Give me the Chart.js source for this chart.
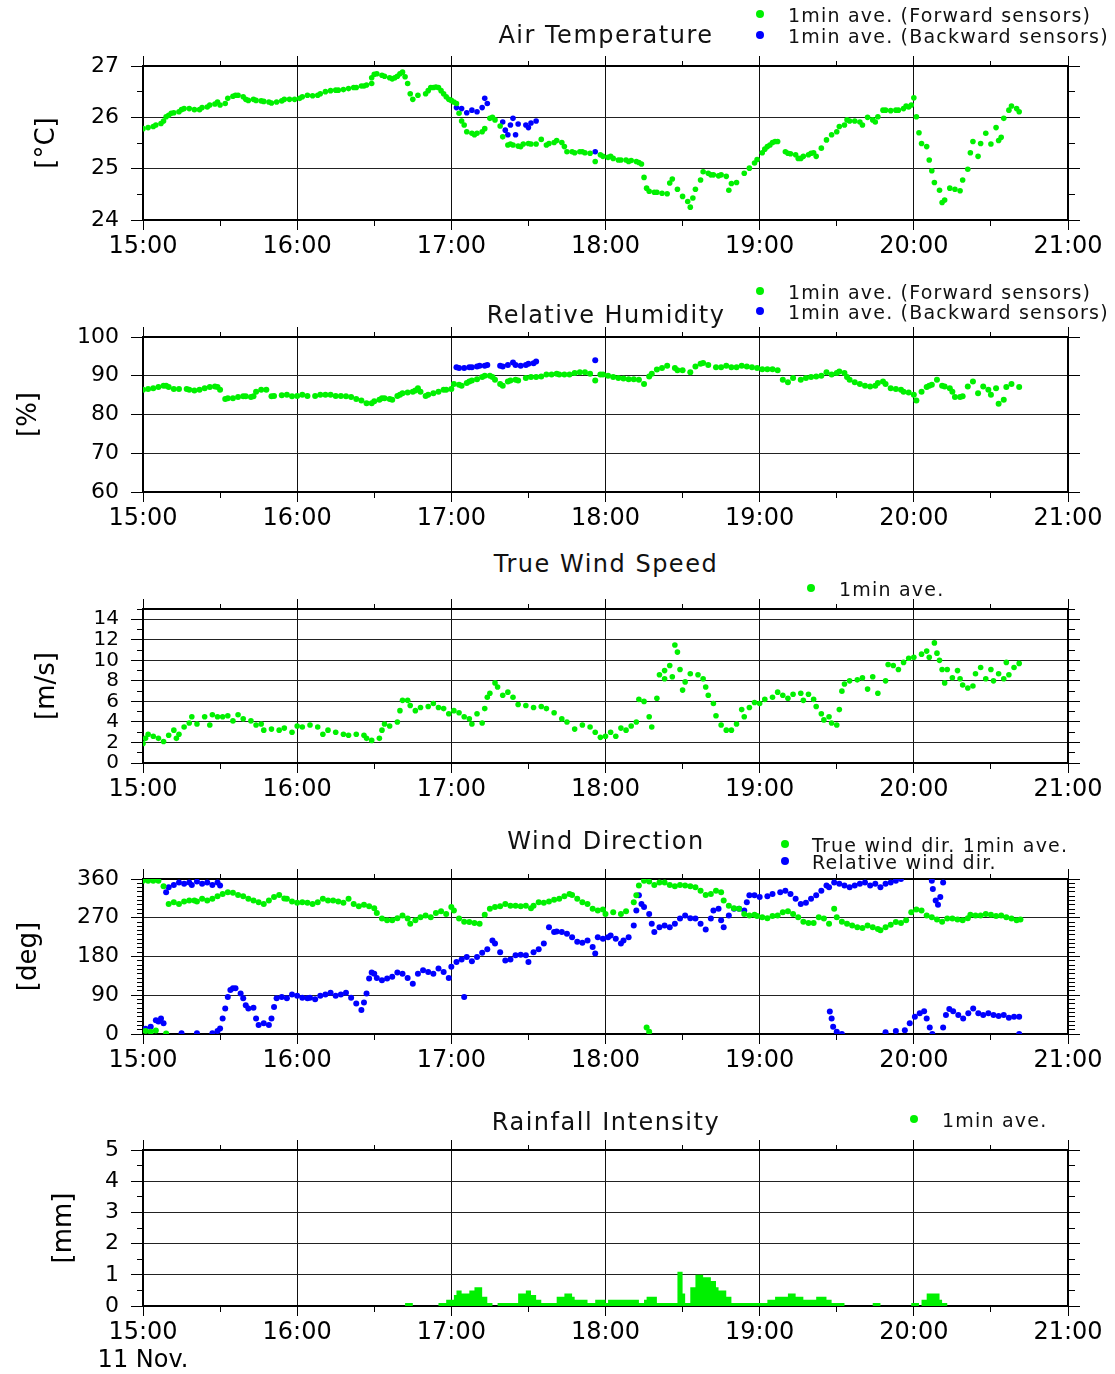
<!DOCTYPE html>
<html>
<head>
<meta charset="utf-8">
<script src="https://cdn.jsdelivr.net/npm/chart.js@4.4.1/dist/chart.umd.min.js"></script>
<style>
  body { margin: 0; background: #fff; width: 1115px; height: 1374px; position: relative; overflow: hidden; font-family: 'DejaVu Sans', sans-serif; color: #111; }
  .box { position: absolute; left: 0; width: 1115px; }
  .title { position: absolute; transform: translate(-50%, -50%); font-size: 24px; letter-spacing: 1.5px; white-space: nowrap; }
  .leg { position: absolute; font-size: 19px; letter-spacing: 1.2px; line-height: 20px; white-space: nowrap; }
  .dot { position: absolute; width: 8px; height: 8px; border-radius: 50%; }
</style>
</head>
<body>
<div class="box" id="b1"><canvas id="c1"></canvas></div>
<div class="box" id="b2"><canvas id="c2"></canvas></div>
<div class="box" id="b3"><canvas id="c3"></canvas></div>
<div class="box" id="b4"><canvas id="c4"></canvas></div>
<div class="box" id="b5"><canvas id="c5"></canvas></div>

<div class="title" style="left:606px;top:35px">Air Temperature</div>
<div class="dot" style="left:756px;top:10px;background:#00f000"></div>
<div class="leg" style="left:788px;top:5px">1min ave. (Forward sensors)</div>
<div class="dot" style="left:756px;top:31px;background:#0000ff"></div>
<div class="leg" style="left:788px;top:26px">1min ave. (Backward sensors)</div>

<div class="title" style="left:606px;top:315px">Relative Humidity</div>
<div class="dot" style="left:756px;top:287px;background:#00f000"></div>
<div class="leg" style="left:788px;top:282px">1min ave. (Forward sensors)</div>
<div class="dot" style="left:756px;top:307px;background:#0000ff"></div>
<div class="leg" style="left:788px;top:302px">1min ave. (Backward sensors)</div>

<div class="title" style="left:606px;top:564px">True Wind Speed</div>
<div class="dot" style="left:807px;top:584px;background:#00f000"></div>
<div class="leg" style="left:839px;top:579px">1min ave.</div>

<div class="title" style="left:606px;top:841px">Wind Direction</div>
<div class="dot" style="left:781px;top:840px;background:#00f000"></div>
<div class="leg" style="left:812px;top:835px">True wind dir. 1min ave.</div>
<div class="dot" style="left:781px;top:857px;background:#0000ff"></div>
<div class="leg" style="left:812px;top:852px">Relative wind dir.</div>

<div class="title" style="left:606px;top:1122px">Rainfall Intensity</div>
<div class="dot" style="left:910px;top:1115px;background:#00f000"></div>
<div class="leg" style="left:942px;top:1110px">1min ave.</div>

<script>
// time = minutes after 15:00
const hourTicks = ['15:00', '16:00', '17:00', '18:00', '19:00', '20:00', '21:00'];
const dateLabel = '11 Nov.';

const tempForward = [[0,25.78],[2,25.80],[4,25.82],[5,25.85],[7,25.88],[8,25.93],[9,26.01],[10,26.04],[11,26.08],[12,26.09],[14,26.11],[15,26.15],[16,26.17],[18,26.17],[20,26.15],[22,26.15],[23,26.19],[25,26.20],[26,26.24],[28,26.26],[29,26.30],[30,26.24],[32,26.27],[33,26.37],[35,26.41],[36,26.43],[37,26.43],[39,26.40],[40,26.35],[41,26.33],[43,26.35],[44,26.33],[46,26.32],[47,26.31],[49,26.30],[50,26.28],[52,26.30],[54,26.32],[55,26.35],[57,26.35],[59,26.35],[61,26.37],[62,26.40],[64,26.43],[66,26.42],[68,26.43],[69,26.46],[71,26.50],[73,26.52],[75,26.53],[76,26.53],[78,26.54],[80,26.56],[82,26.58],[83,26.58],[85,26.61],[86,26.61],[87,26.63],[89,26.66],[89,26.77],[90,26.84],[91,26.85],[93,26.82],[94,26.80],[96,26.77],[97,26.75],[98,26.77],[99,26.80],[100,26.85],[101,26.88],[102,26.79],[103,26.66],[104,26.46],[105,26.35],[107,26.43],[110,26.46],[111,26.52],[112,26.58],[113,26.58],[114,26.59],[115,26.58],[116,26.52],[117,26.46],[118,26.40],[119,26.35],[120,26.33],[121,26.30],[122,26.27],[123,26.08],[124,25.93],[125,25.85],[126,25.72],[128,25.69],[129,25.66],[130,25.69],[132,25.72],[133,25.78],[135,25.98],[136,26.00],[137,25.95],[139,25.83],[140,25.62],[142,25.46],[143,25.48],[144,25.46],[146,25.44],[147,25.43],[148,25.48],[150,25.49],[151,25.48],[153,25.48],[155,25.57],[157,25.46],[158,25.49],[160,25.51],[161,25.55],[163,25.51],[164,25.43],[165,25.33],[167,25.33],[168,25.31],[170,25.33],[171,25.33],[172,25.31],[174,25.30],[176,25.14],[178,25.27],[179,25.24],[181,25.22],[182,25.24],[183,25.20],[185,25.17],[186,25.17],[188,25.17],[189,25.14],[190,25.16],[192,25.14],[193,25.12],[194,25.09],[195,24.83],[196,24.62],[197,24.56],[199,24.54],[200,24.54],[202,24.52],[204,24.51],[205,24.72],[206,24.80],[208,24.60],[210,24.46],[212,24.36],[213,24.25],[214,24.43],[215,24.60],[217,24.78],[218,24.94],[220,24.91],[221,24.88],[222,24.88],[224,24.86],[225,24.88],[227,24.85],[228,24.58],[229,24.71],[231,24.73],[234,24.91],[236,25.01],[238,25.11],[239,25.18],[241,25.31],[242,25.38],[243,25.43],[244,25.46],[245,25.51],[246,25.53],[247,25.53],[250,25.33],[251,25.30],[252,25.29],[254,25.27],[255,25.20],[256,25.20],[257,25.24],[259,25.27],[260,25.30],[261,25.31],[262,25.24],[264,25.40],[266,25.56],[268,25.66],[270,25.72],[271,25.82],[273,25.85],[274,25.95],[275,25.93],[277,25.93],[279,25.91],[280,25.85],[282,26.00],[284,25.95],[285,25.91],[286,26.01],[288,26.14],[289,26.14],[291,26.13],[293,26.14],[294,26.14],[296,26.17],[297,26.22],[298,26.20],[299,26.24],[300,26.38],[301,26.01],[302,25.70],[303,25.49],[305,25.43],[306,25.17],[307,24.96],[308,24.73],[310,24.58],[311,24.34],[312,24.39],[314,24.62],[316,24.60],[318,24.57],[319,24.78],[321,24.99],[322,25.31],[323,25.53],[325,25.24],[326,25.49],[328,25.69],[330,25.48],[332,25.80],[333,25.55],[334,25.61],[335,25.98],[337,26.14],[338,26.22],[340,26.17],[341,26.11]];
const tempBackward = [[122,26.19],[124,26.17],[126,26.09],[128,26.14],[130,26.11],[132,26.19],[133,26.37],[134,26.27],[140,25.91],[141,25.75],[142,25.66],[143,25.85],[144,25.98],[145,25.66],[146,25.87],[149,25.85],[150,25.80],[151,25.89],[153,25.93],[176,25.33]];

const rhForward = [[0,86.4],[2,86.6],[4,86.8],[6,87.1],[8,87.4],[9,87.4],[10,87.1],[12,86.6],[14,86.6],[17,86.6],[18,86.4],[20,86.2],[22,86.4],[24,86.8],[26,87.1],[28,87.2],[29,87.1],[30,86.4],[32,84.0],[33,84.2],[35,84.2],[37,84.5],[39,84.7],[40,84.7],[42,84.5],[43,84.7],[44,85.9],[46,86.4],[48,86.4],[50,84.7],[51,84.8],[54,85.0],[56,85.1],[58,84.7],[60,84.8],[62,85.1],[64,84.8],[67,84.8],[69,85.1],[71,85.1],[73,85.1],[75,84.8],[77,84.8],[79,84.7],[81,84.5],[83,84.0],[85,83.6],[87,82.9],[89,82.9],[90,83.4],[92,83.8],[93,84.2],[94,84.2],[96,84.0],[97,83.8],[99,84.8],[100,85.1],[101,85.5],[103,85.7],[105,85.9],[106,86.2],[107,86.8],[108,85.9],[110,84.8],[111,85.1],[113,85.5],[115,85.9],[117,86.4],[118,86.4],[120,86.6],[121,87.9],[123,87.7],[124,87.4],[126,88.1],[127,88.5],[128,88.8],[130,89.1],[132,89.7],[133,90.0],[135,90.0],[136,89.7],[137,89.0],[139,87.9],[140,87.4],[142,88.5],[143,88.8],[145,89.0],[146,88.8],[149,89.4],[151,89.7],[153,89.7],[155,89.8],[157,90.3],[159,90.3],[161,90.5],[162,90.3],[164,90.3],[166,90.3],[168,90.7],[170,90.9],[172,90.9],[174,90.5],[176,88.8],[178,90.3],[179,90.3],[181,90.0],[183,89.7],[185,89.4],[187,89.3],[189,89.1],[191,89.1],[193,89.0],[195,87.9],[197,89.8],[198,90.5],[200,91.6],[202,92.0],[204,92.6],[207,92.0],[208,91.4],[210,91.4],[213,90.9],[215,92.4],[217,93.1],[218,93.3],[220,92.8],[223,92.2],[225,92.2],[227,92.6],[229,92.2],[231,92.2],[233,92.6],[235,92.4],[237,92.2],[239,92.0],[241,91.7],[243,91.7],[245,91.7],[247,91.4],[249,89.0],[251,88.3],[253,89.4],[256,89.0],[258,89.4],[260,89.7],[262,89.8],[264,90.0],[266,90.9],[268,90.3],[270,90.7],[271,91.1],[273,90.7],[274,89.7],[275,89.0],[277,88.3],[279,87.9],[281,87.4],[283,87.2],[285,87.4],[286,88.1],[288,88.5],[289,87.9],[291,86.8],[293,86.6],[295,86.4],[296,85.9],[298,85.7],[300,85.1],[301,83.6],[303,85.9],[305,87.1],[306,87.4],[307,87.7],[309,89.0],[311,87.4],[312,87.2],[314,86.8],[315,85.9],[316,84.5],[318,84.5],[319,84.7],[321,87.2],[323,88.5],[325,85.5],[327,87.2],[329,86.4],[330,85.1],[332,86.8],[333,82.8],[335,83.8],[336,87.1],[338,87.9],[341,87.1]];
const rhBackward = [[122,92.2],[123,92.0],[125,92.0],[127,92.2],[128,92.2],[130,92.4],[131,92.6],[133,92.6],[134,92.8],[139,92.6],[140,92.4],[142,92.8],[144,93.4],[145,92.8],[147,92.6],[149,92.8],[150,93.1],[152,93.2],[153,93.7],[176,94.0]];

const windSpeed = [[0,1.9],[1,2.4],[2,2.8],[4,2.6],[6,2.4],[8,2.1],[10,2.7],[12,3.2],[13,2.4],[14,2.8],[16,3.5],[18,3.9],[19,4.5],[21,3.8],[24,4.5],[26,3.7],[27,4.7],[29,4.5],[31,4.5],[33,4.6],[35,4.1],[37,4.7],[39,4.3],[42,4.1],[44,3.7],[46,3.8],[47,3.2],[50,3.3],[53,3.2],[55,3.4],[58,3.0],[60,3.6],[62,3.5],[65,3.7],[68,3.5],[70,2.8],[72,3.2],[75,3.0],[78,2.8],[80,2.7],[83,2.8],[86,2.7],[87,2.4],[89,2.2],[92,2.4],[93,3.2],[94,3.8],[96,3.6],[99,4.0],[100,5.1],[101,6.1],[103,6.1],[104,5.6],[106,5.1],[108,5.4],[111,5.5],[113,5.8],[115,5.4],[117,5.3],[119,4.8],[121,5.1],[123,4.9],[125,4.5],[127,4.3],[128,3.8],[130,4.8],[132,3.9],[133,5.3],[134,6.4],[135,6.8],[137,7.8],[138,7.4],[140,6.6],[142,6.9],[144,6.4],[146,5.7],[149,5.6],[152,5.4],[155,5.5],[157,5.3],[160,4.9],[163,4.3],[165,4.0],[168,3.3],[171,3.7],[174,3.5],[176,3.0],[178,2.5],[180,2.6],[182,3.0],[184,2.6],[186,3.4],[188,3.2],[190,3.6],[192,4.0],[193,6.2],[195,6.0],[197,4.5],[198,3.5],[200,6.3],[201,8.6],[203,9.0],[205,9.5],[203,8.2],[206,8.4],[207,11.5],[208,10.8],[209,9.1],[210,7.1],[211,7.9],[213,8.7],[216,8.6],[218,8.2],[219,7.4],[220,6.6],[222,5.8],[223,4.6],[225,3.7],[227,3.2],[229,3.2],[231,3.8],[233,5.2],[234,4.5],[236,5.4],[238,5.9],[240,5.8],[242,6.2],[245,6.4],[247,6.9],[249,6.6],[251,6.3],[253,6.7],[256,6.8],[257,6.1],[259,6.7],[261,6.2],[262,5.5],[264,4.8],[265,4.2],[267,4.5],[268,3.9],[270,3.7],[271,5.2],[272,7.0],[273,7.7],[275,8.0],[278,8.1],[280,8.3],[282,7.2],[284,8.4],[286,6.8],[289,8.0],[290,9.6],[292,9.5],[294,9.1],[296,9.8],[298,10.2],[300,10.3],[303,10.6],[305,10.9],[306,10.3],[308,11.7],[309,10.7],[310,10.0],[311,9.1],[312,7.8],[313,9.1],[315,8.3],[317,9.0],[318,8.2],[319,7.6],[321,7.3],[323,7.5],[324,8.7],[326,9.3],[328,8.2],[330,9.1],[331,8.0],[333,8.7],[335,8.2],[336,9.8],[337,8.6],[339,9.3],[341,9.7]];

const trueDir = [[0,356],[2,356],[4,356],[6,356],[8,343],[1,7],[3,5],[5,8],[9,1],[10,302],[12,306],[14,302],[16,308],[18,310],[20,310],[21,308],[23,314],[25,310],[27,314],[29,320],[31,325],[33,329],[35,328],[37,323],[39,320],[41,314],[43,310],[45,306],[47,302],[49,310],[51,318],[53,323],[55,315],[56,314],[58,308],[60,305],[62,306],[64,305],[66,302],[68,306],[70,314],[72,310],[74,310],[76,308],[78,305],[80,314],[82,302],[84,297],[86,300],[88,297],[90,292],[91,281],[93,268],[95,264],[97,264],[99,269],[101,275],[103,268],[104,256],[106,264],[108,271],[110,275],[112,271],[114,281],[116,285],[118,279],[120,295],[121,287],[123,268],[125,261],[127,260],[129,258],[131,256],[133,277],[135,291],[137,295],[139,297],[141,302],[143,298],[145,298],[147,297],[149,298],[151,292],[152,298],[154,306],[156,305],[158,308],[160,312],[162,314],[164,320],[166,325],[167,323],[169,314],[171,306],[173,302],[175,291],[177,287],[179,289],[180,279],[183,283],[186,279],[188,285],[191,306],[192,322],[193,345],[195,356],[197,354],[199,346],[201,352],[203,352],[205,346],[207,343],[209,346],[211,345],[213,343],[215,341],[217,333],[219,323],[221,325],[223,333],[225,329],[226,310],[228,298],[230,292],[232,291],[234,279],[236,275],[238,277],[239,274],[241,271],[243,269],[245,274],[247,275],[249,283],[251,285],[253,279],[255,271],[257,261],[259,258],[261,258],[263,271],[265,268],[267,256],[269,291],[270,271],[272,261],[274,256],[276,252],[278,248],[280,246],[282,252],[284,248],[286,244],[287,241],[289,248],[291,254],[293,260],[295,258],[297,264],[299,283],[301,289],[303,287],[305,275],[307,271],[309,266],[311,261],[313,268],[315,268],[317,266],[319,264],[321,269],[322,277],[324,275],[326,275],[328,279],[330,277],[332,274],[334,275],[336,271],[338,268],[340,264],[341.5,266],[196,15],[197,5]];
const relativeDir = [[1,12],[3,17],[5,32],[6,29],[7,36],[8,25],[9,329],[10,341],[12,346],[14,352],[16,349],[18,352],[19,346],[21,354],[23,349],[25,352],[27,346],[29,352],[30,345],[15,2],[21,2],[27,2],[29,7],[30,13],[31,36],[32,59],[33,86],[34,102],[35,106],[36,106],[38,94],[39,83],[40,67],[41,59],[43,61],[44,36],[45,21],[47,25],[49,21],[50,36],[51,63],[52,83],[54,86],[56,83],[58,92],[60,89],[62,84],[64,83],[65,84],[67,81],[69,89],[71,92],[73,96],[75,89],[77,92],[79,96],[81,84],[83,71],[85,56],[86,73],[87,94],[88,129],[89,143],[90,140],[91,130],[93,125],[95,129],[97,133],[99,143],[101,140],[103,130],[105,117],[107,140],[109,148],[111,144],[113,140],[115,152],[117,144],[119,130],[120,156],[122,167],[124,173],[125,86],[126,179],[128,169],[130,179],[132,189],[134,197],[136,217],[137,210],[139,190],[141,171],[143,173],[145,183],[147,184],[149,183],[150,167],[152,190],[154,197],[156,210],[158,248],[160,237],[161,238],[163,237],[165,233],[167,225],[169,214],[171,212],[173,217],[175,202],[176,187],[177,225],[179,221],[181,225],[182,229],[184,221],[186,210],[187,217],[189,225],[191,252],[192,287],[193,322],[194,302],[195,295],[197,279],[198,256],[199,237],[201,248],[203,252],[205,248],[207,256],[209,268],[211,275],[213,269],[215,268],[217,256],[219,243],[221,268],[222,287],[224,291],[225,264],[226,248],[228,275],[230,291],[232,291],[234,287],[235,306],[236,322],[238,322],[240,318],[243,320],[245,325],[248,329],[250,333],[252,325],[254,314],[256,302],[258,305],[260,314],[262,322],[264,333],[266,345],[267,341],[269,352],[271,349],[273,345],[275,341],[277,345],[279,349],[281,352],[283,345],[285,349],[287,341],[289,349],[291,352],[293,356],[295,360],[307,356],[307.4,337],[308.5,310],[309.4,300],[310.3,318],[311.4,352],[267.3,52],[268,36],[268.6,17],[270,5],[272,0],[289,4],[293,7],[296.5,9],[298.4,25],[300.4,40],[302.3,48],[304,53],[305,36],[306.2,15],[307.2,0],[311.4,15],[312.5,44],[313.8,58],[315.3,53],[317.3,44],[319.2,36],[321.2,48],[323.1,59],[325.1,48],[327,44],[329,48],[331,44],[333,42],[335,44],[337,38],[339,40],[341,40],[341,0]];

// rainfall: [start minute, mm] held until the next entry
const rainfall = [[0,0],[102,0.1],[105,0],[115,0.1],[118,0.2],[121,0.35],[122,0.5],[124,0.4],[127,0.5],[129,0.6],[132,0.3],[134,0.1],[136,0],[138,0.1],[146,0.4],[149,0.5],[151,0.35],[153,0.2],[155,0.1],[161,0.3],[164,0.4],[167,0.3],[168,0.2],[173,0.1],[176,0.2],[180,0.1],[181,0.2],[193,0.1],[195,0.2],[196,0.3],[200,0.1],[208,1.1],[210,0.4],[211,0.1],[213,0.6],[215,1.0],[218,0.92],[221,0.8],[223,0.6],[224,0.5],[227,0.3],[229,0.1],[243,0.2],[246,0.3],[251,0.4],[254,0.3],[257,0.2],[262,0.3],[266,0.2],[268,0.1],[273,0],[284,0.1],[287,0],[299,0.1],[302,0],[303,0.2],[305,0.4],[310,0.2],[311,0.1],[313,0],[360,0]];

const FONT = "'DejaVu Sans', sans-serif";
const GREEN = '#00f000';
const BLUE = '#0000ff';
const CLEAR = 'rgba(0,0,0,0)';
const TOP_H = 30;
const isMul = (v, m) => Math.abs(v / m - Math.round(v / m)) < 1e-6;
const xy = arr => arr.map(([x, y]) => ({x, y}));

function xScale(pos, bottomH, extra) {
  const top = pos === 'top';
  return {
    type: 'linear', position: pos, min: 0, max: 360,
    ticks: {
      display: !top, stepSize: 30, autoSkip: false, maxRotation: 0, minRotation: 0,
      color: '#000', padding: 3, font: {family: FONT, size: 24, lineHeight: 1.15},
      callback: v => {
        if (!isMul(v, 60)) return '';
        const lab = hourTicks[Math.round(v / 60)];
        return v === 0 && extra ? [lab, extra] : lab;
      }
    },
    grid: {
      drawOnChartArea: !top, lineWidth: 1, tickLength: 10, tickWidth: 1, tickColor: '#000',
      color: c => c.tick && isMul(c.tick.value, 60) ? '#111' : CLEAR,
      tickBorderDash: c => (c.tick && isMul(c.tick.value, 60)) ? [] : (top ? [0, 5, 5, 40] : [5, 40])
    },
    border: {display: true, color: '#000', width: 2},
    afterFit: s => { s.height = top ? TOP_H : bottomH; }
  };
}

function yScale(pos, c) {
  const left = pos === 'left';
  const major = v => isMul(v - c.min, c.major);
  return {
    type: 'linear', position: pos, min: c.min, max: c.max,
    ticks: {
      display: left, stepSize: c.step, autoSkip: false, color: '#000', padding: 12,
      font: {family: FONT, size: c.fs},
      callback: v => major(v) ? String(v) : ''
    },
    grid: {
      drawOnChartArea: left, lineWidth: 1, tickLength: 12, tickWidth: 1, tickColor: '#000',
      color: k => k.tick && major(k.tick.value) ? '#222' : CLEAR,
      tickBorderDash: k => (k.tick && major(k.tick.value)) ? [] : (left ? [0, 6, 6, 40] : [6, 40])
    },
    border: {display: true, color: '#000', width: 2},
    title: {display: left, text: c.unit, color: '#000', font: {family: FONT, size: 26}, padding: {top: c.tpad, bottom: 0}},
    afterFit: s => { s.width = left ? 143 : 47; }
  };
}

function dots(data, color, r) {
  return {data: xy(data), backgroundColor: color, borderWidth: 0, pointRadius: r, pointHoverRadius: r, xAxisID: 'x', yAxisID: 'y'};
}

function panel(n, top, bottom, bottomH, y, datasets, type, extra) {
  const box = document.getElementById('b' + n);
  const cv = document.getElementById('c' + n);
  const h = TOP_H + (bottom - top) + bottomH;
  box.style.top = (top - TOP_H) + 'px';
  cv.width = 1115; cv.height = h;
  cv.style.width = '1115px'; cv.style.height = h + 'px';
  return new Chart(cv, {
    type: type,
    data: {datasets},
    options: {
      responsive: false, animation: false, devicePixelRatio: 1,
      layout: {padding: 0, autoPadding: false},
      plugins: {legend: {display: false}, tooltip: {enabled: false}},
      scales: {
        x: xScale('bottom', bottomH, extra), x2: xScale('top'),
        y: yScale('left', y), y2: yScale('right', y)
      }
    }
  });
}

panel(1, 66, 220, 50, {min: 24, max: 27, step: 0.5, major: 1, fs: 22, unit: '[°C]', tpad: 32},
  [dots(tempForward, GREEN, 2.8), dots(tempBackward, BLUE, 2.8)], 'scatter');
panel(2, 337, 492, 50, {min: 60, max: 100, step: 10, major: 10, fs: 22, unit: '[%]', tpad: 14},
  [dots(rhForward, GREEN, 3), dots(rhBackward, BLUE, 3)], 'scatter');
panel(3, 609, 763, 50, {min: 0, max: 15, step: 1, major: 2, fs: 20, unit: '[m/s]', tpad: 32},
  [dots(windSpeed, GREEN, 2.8)], 'scatter');
panel(4, 879, 1034, 50, {min: 0, max: 360, step: 10, major: 90, fs: 22, unit: '[deg]', tpad: 14},
  [dots(trueDir, GREEN, 3), dots(relativeDir, BLUE, 3)], 'scatter');
panel(5, 1150, 1306, 68, {min: 0, max: 5, step: 0.5, major: 1, fs: 22, unit: '[mm]', tpad: 49},
  [{data: xy(rainfall), stepped: true, fill: 'origin', backgroundColor: GREEN, borderWidth: 0, pointRadius: 0, xAxisID: 'x', yAxisID: 'y'}], 'line', dateLabel);
</script>
</body>
</html>
